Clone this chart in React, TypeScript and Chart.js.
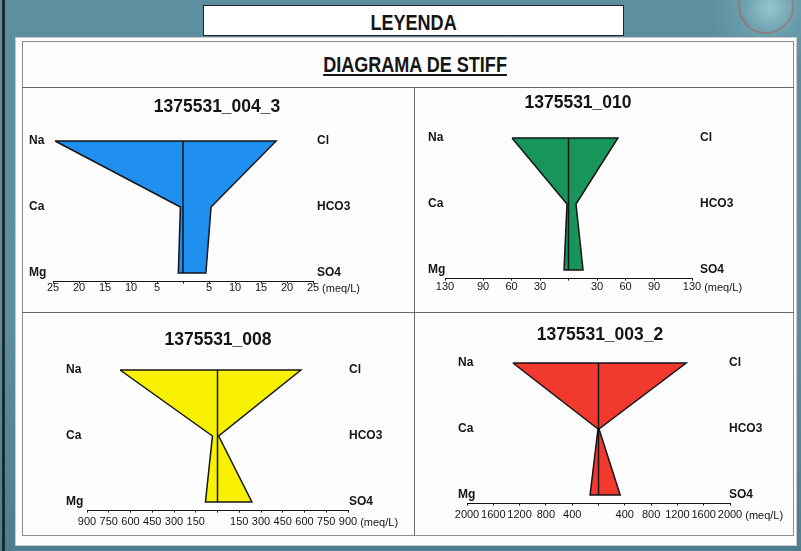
import React, { useEffect, useRef } from "react";
import { Chart, registerables } from "chart.js";

Chart.register(...registerables);

// ---------------- DATA ----------------
const SAMPLE_IDS = ["1375531_004_3", "1375531_010", "1375531_008", "1375531_003_2"];
const CATION_NAMES = ["Na", "Ca", "Mg"];
const ANION_NAMES = ["Cl", "HCO3", "SO4"];
const UNIT_LABEL = "(meq/L)";
const LEGEND_TITLE = "LEYENDA";
const DIAGRAM_TITLE = "DIAGRAMA DE STIFF";

// meq/L in order Na, Ca, Mg  /  Cl, HCO3, SO4
const CATIONS_004_3 = [24.6, 0.5, 0.9];
const ANIONS_004_3 = [17.9, 5.4, 4.4];
const CATIONS_010 = [59.5, 1.6, 4.7];
const ANIONS_010 = [52, 7.9, 15.3];
const CATIONS_008 = [672, 35, 83];
const ANIONS_008 = [575, 8, 237];
const CATIONS_003_2 = [1302, 8, 128];
const ANIONS_003_2 = [1333, 8, 330];

const TICKS_004_3 = [-25, -20, -15, -10, -5, 0, 5, 10, 15, 20, 25];
const TICKS_010 = [-130, -90, -60, -30, 0, 30, 60, 90, 130];
const TICKS_008 = [-900, -750, -600, -450, -300, -150, 0, 150, 300, 450, 600, 750, 900];
const TICKS_003_2 = [-2000, -1600, -1200, -800, -400, 0, 400, 800, 1200, 1600, 2000];

const SERIES = [
  { id: SAMPLE_IDS[0], cations: CATIONS_004_3, anions: ANIONS_004_3, ticks: TICKS_004_3 },
  { id: SAMPLE_IDS[1], cations: CATIONS_010, anions: ANIONS_010, ticks: TICKS_010 },
  { id: SAMPLE_IDS[2], cations: CATIONS_008, anions: ANIONS_008, ticks: TICKS_008 },
  { id: SAMPLE_IDS[3], cations: CATIONS_003_2, anions: ANIONS_003_2, ticks: TICKS_003_2 },
];

// ---------------- LAYOUT / STYLE ----------------
const FONT = "'Liberation Sans', Arial, sans-serif";
const INK = "#151515";
const ROW_GAP = 66;
const Y_MIN = -0.1;
const Y_MAX = 2.13;
const AXIS_H = 22;
const TICK_LEN = 2;

const LAYOUTS = [
  { left: 22, top: 87, width: 392, height: 225, areaL: 31, areaR: 291, naRow: 54, titleX: 195, titleY: 20, labL: 7, labR: 295, color: "#1f8ff0", tickPad: -1 },
  { left: 414, top: 87, width: 379, height: 225, areaL: 31, areaR: 278, naRow: 51, titleX: 164, titleY: 16, labL: 14, labR: 286, color: "#17955a", tickPad: 1 },
  { left: 22, top: 312, width: 392, height: 223, areaL: 65, areaR: 326, naRow: 58, titleX: 196, titleY: 28, labL: 44, labR: 327, color: "#f8f200", tickPad: 4 },
  { left: 414, top: 312, width: 379, height: 223, areaL: 53, areaR: 316, naRow: 51, titleX: 186, titleY: 23, labL: 44, labR: 315, color: "#f2392d", tickPad: 4 },
];

function StiffChart({ series, layout }: { series: any; layout: any }) {
  const ref = useRef<HTMLCanvasElement | null>(null);
  useEffect(() => {
    const canvas = ref.current;
    if (!canvas) return;
    const c = series.cations;
    const a = series.anions;
    const polygon = [
      { x: -c[0], y: 0 },
      { x: -c[1], y: 1 },
      { x: -c[2], y: 2 },
      { x: a[2], y: 2 },
      { x: a[1], y: 1 },
      { x: a[0], y: 0 },
      { x: -c[0], y: 0 },
    ];
    const center = [
      { x: 0, y: 0 },
      { x: 0, y: 2 },
    ];
    const range = series.ticks[series.ticks.length - 1];
    const plotH = (Y_MAX - Y_MIN) * ROW_GAP;
    const padTop = layout.naRow + Y_MIN * ROW_GAP;
    const padBottom = layout.height - padTop - plotH - AXIS_H;

    const labelsPlugin = {
      id: "stiffLabels",
      afterDraw(chart: any) {
        const ctx = chart.ctx;
        const ys = chart.scales.y;
        const xs = chart.scales.x;
        ctx.save();
        ctx.fillStyle = INK;
        ctx.textBaseline = "middle";
        ctx.textAlign = "center";
        ctx.font = `bold 17.5px ${FONT}`;
        ctx.fillText(series.id, layout.titleX, layout.titleY);
        ctx.font = `bold 12px ${FONT}`;
        ctx.textAlign = "left";
        for (let i = 0; i < 3; i++) {
          const py = ys.getPixelForValue(i);
          ctx.fillText(CATION_NAMES[i], layout.labL, py);
          ctx.fillText(ANION_NAMES[i], layout.labR, py);
        }
        ctx.font = `11px ${FONT}`;
        const last = String(Math.abs(range));
        const w = ctx.measureText(last).width;
        ctx.textBaseline = "top";
        const ly = xs.top + TICK_LEN + layout.tickPad;
        ctx.fillText(UNIT_LABEL, xs.getPixelForValue(range) + w / 2 + 3, ly + 0.5);
        ctx.restore();
      },
    };

    const chart = new Chart(canvas, {
      type: "scatter",
      data: {
        datasets: [
          {
            data: center,
            showLine: true,
            borderColor: INK,
            borderWidth: 1.5,
            pointRadius: 0,
            fill: false,
            clip: false,
          } as any,
          {
            data: polygon,
            showLine: true,
            borderColor: INK,
            borderWidth: 1.5,
            backgroundColor: layout.color,
            pointRadius: 0,
            tension: 0,
            fill: "shape",
            clip: false,
          } as any,
        ],
      },
      options: {
        animation: false,
        responsive: false,
        maintainAspectRatio: false,
        events: [],
        layout: {
          padding: {
            left: layout.areaL,
            right: layout.width - layout.areaR,
            top: padTop,
            bottom: padBottom,
          },
        },
        plugins: {
          legend: { display: false },
          tooltip: { enabled: false },
          title: { display: false },
        },
        scales: {
          x: {
            type: "linear",
            min: -range,
            max: range,
            afterBuildTicks: (scale: any) => {
              scale.ticks = series.ticks.map((v: number) => ({ value: v }));
            },
            afterFit: (scale: any) => {
              scale.height = AXIS_H;
            },
            ticks: {
              autoSkip: false,
              maxRotation: 0,
              minRotation: 0,
              padding: layout.tickPad,
              color: INK,
              font: { family: FONT, size: 11, lineHeight: 1 },
              callback: (v: any) => (Number(v) === 0 ? "" : String(Math.abs(Number(v)))),
            },
            grid: {
              drawOnChartArea: false,
              drawTicks: true,
              tickLength: TICK_LEN,
              color: INK,
              lineWidth: 1,
            },
            border: { display: true, color: INK, width: 1 },
          },
          y: {
            type: "linear",
            min: Y_MIN,
            max: Y_MAX,
            reverse: true,
            display: false,
          },
        },
      } as any,
      plugins: [labelsPlugin],
    });
    return () => chart.destroy();
  }, [series, layout]);

  return (
    <canvas
      ref={ref}
      width={layout.width}
      height={layout.height}
      style={{
        position: "absolute",
        left: layout.left,
        top: layout.top,
        width: layout.width,
        height: layout.height,
        display: "block",
      }}
    />
  );
}

export default function App() {
  const line = (s: React.CSSProperties) => (
    <div style={{ position: "absolute", background: "#6a6a6a", ...s }} />
  );
  const narrow: React.CSSProperties = {
    display: "inline-block",
    transform: "scaleX(0.82)",
    transformOrigin: "center",
  };
  return (
    <div
      style={{
        position: "absolute",
        left: 0,
        top: 0,
        width: 801,
        height: 551,
        overflow: "hidden",
        background:
          "radial-gradient(circle at 770px 8px, rgba(170,215,222,0.75) 0px, rgba(130,185,195,0.35) 28px, rgba(90,142,158,0) 60px), linear-gradient(180deg, #5c8f9f 0%, #5a8d9d 60%, #4d7f90 100%)",
        fontFamily: FONT,
      }}
    >
      {/* decorative ring top right */}
      <div
        style={{
          position: "absolute",
          left: 738,
          top: -22,
          width: 56,
          height: 56,
          borderRadius: "50%",
          border: "2px solid rgba(190,80,80,0.45)",
          boxSizing: "border-box",
        }}
      />
      {/* left dark strip */}
      <div style={{ position: "absolute", left: 2, top: 0, width: 3, height: 551, background: "#1d2a2f" }} />
      {/* LEYENDA box */}
      <div
        style={{
          position: "absolute",
          left: 203,
          top: 5,
          width: 421,
          height: 31,
          boxSizing: "border-box",
          background: "#ffffff",
          border: "1.5px solid #222",
          textAlign: "center",
          font: `bold 22px ${FONT}`,
          lineHeight: "33px",
          color: INK,
        }}
      >
        <span style={narrow}>{LEGEND_TITLE}</span>
      </div>
      {/* outer white panel */}
      <div
        style={{
          position: "absolute",
          left: 15,
          top: 37,
          width: 782,
          height: 509,
          boxSizing: "border-box",
          background: "#fdfdfd",
          border: "1px solid #c9c9c9",
        }}
      />
      {/* inner frame */}
      <div
        style={{
          position: "absolute",
          left: 22,
          top: 41,
          width: 772,
          height: 495,
          boxSizing: "border-box",
          border: "1px solid #8c8c8c",
        }}
      />
      {line({ left: 22, top: 87, width: 772, height: 1 })}
      {line({ left: 22, top: 312, width: 772, height: 1 })}
      {line({ left: 414, top: 87, width: 1, height: 448 })}
      <div
        style={{
          position: "absolute",
          left: 215,
          top: 52,
          width: 400,
          textAlign: "center",
          font: `bold 22px ${FONT}`,
          lineHeight: "26px",
          color: INK,
        }}
      >
        <span style={{ ...narrow, textDecoration: "underline" }}>{DIAGRAM_TITLE}</span>
      </div>
      {SERIES.map((s, i) => (
        <StiffChart key={s.id} series={s} layout={LAYOUTS[i]} />
      ))}
    </div>
  );
}
